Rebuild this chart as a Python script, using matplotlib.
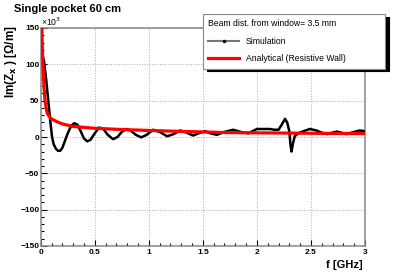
"""Transverse impedance of a single 60 cm pocket: simulation vs resistive wall."""

import matplotlib
import matplotlib.pyplot as plt
from matplotlib.lines import Line2D
from matplotlib.ticker import MultipleLocator

matplotlib.use("Agg")

plt.rcParams["font.family"] = ["Liberation Sans", "DejaVu Sans"]

# frequency [GHz] and Im(Z_x) [x10^3 Ohm/m]
sim_f = [0.015, 0.03, 0.05, 0.07, 0.09, 0.105, 0.12, 0.14, 0.16, 0.18, 0.20,
         0.22, 0.25, 0.28, 0.31, 0.34, 0.37, 0.40, 0.43, 0.46, 0.50, 0.54,
         0.58, 0.62, 0.67, 0.71, 0.75, 0.79, 0.83, 0.88, 0.93, 0.98, 1.04,
         1.10, 1.17, 1.23, 1.29, 1.35, 1.41, 1.46, 1.52, 1.57, 1.63, 1.70,
         1.78, 1.85, 1.92, 2.00, 2.06, 2.12, 2.16, 2.20, 2.23, 2.26, 2.28,
         2.30, 2.31, 2.32, 2.335, 2.35, 2.38, 2.43, 2.49, 2.55, 2.60, 2.65,
         2.70, 2.74, 2.78, 2.83, 2.90, 2.95, 3.00]
sim_z = [112, 105, 80, 50, 20, 0, -10, -16, -19, -19, -15,
         -7, 5, 15, 19, 17, 8, -2, -6, -4, 5, 13,
         11, 3, -3, 0, 7, 11, 9, 3, -0.5, 3, 10,
         7, 1, 4, 9, 6, 2, 5, 8, 5, 3, 7,
         10, 7, 5, 11, 11, 11, 10, 10, 17, 25, 20,
         8, -10, -20, -8, 1, 5, 8, 11, 9, 6, 4,
         6, 7.5, 6, 4, 7, 9, 8]

rw_f = [0.002, 0.01, 0.02, 0.03, 0.04, 0.05, 0.06, 0.08, 0.1, 0.15, 0.2,
        0.3, 0.5, 0.8, 1.0, 1.3, 1.75, 2.2, 2.6, 3.0]
rw_z = [400, 150, 100, 70, 50, 40, 33, 28, 25, 21, 18,
        14.5, 12, 10, 9, 7.7, 6, 5.5, 5, 4.7]

W, H = 407, 274
fig = plt.figure(figsize=(W / 100, H / 100), dpi=100)
ax = fig.add_axes([40.7 / W, 1 - 246 / H, (365 - 40.7) / W, (246 - 28) / H])

ax.plot(sim_f, sim_z, color="black", lw=1.8, zorder=3)
ana, = ax.plot(rw_f, rw_z, color="red", lw=2.3, zorder=4)

ax.set_xlim(0, 3)
ax.set_ylim(-150, 150)
ax.xaxis.set_major_locator(MultipleLocator(0.5))
ax.xaxis.set_minor_locator(MultipleLocator(0.1))
ax.yaxis.set_major_locator(MultipleLocator(50))
ax.yaxis.set_minor_locator(MultipleLocator(10))
ax.set_xticks([0, 0.5, 1, 1.5, 2, 2.5, 3], ["0", "0.5", "1", "1.5", "2", "2.5", "3"])
ax.tick_params(which="both", direction="in", color="black", width=0.8,
               labelsize=6, top=False, right=False)
ax.tick_params(which="major", length=4)
ax.tick_params(which="minor", length=2)
ax.tick_params(axis="x", pad=2)
ax.tick_params(axis="y", pad=1)
for lab in ax.get_xticklabels() + ax.get_yticklabels():
    lab.set_fontweight("bold")

ax.grid(True, which="major", color="#aaaaaa", ls=":", lw=0.7)
for sp in ax.spines.values():
    sp.set_color("#888888")
    sp.set_linewidth(1.1)

fig.text(14 / W, 1 - 9 / H, "Single pocket 60 cm", fontsize=8, fontweight="bold",
         ha="left", va="center")
fig.text(41 / W, 1 - 22 / H, "×10$^{3}$", fontsize=6.2, ha="left", va="center")
fig.text(11 / W, 1 - 25 / H, "Im(Z$_{\\mathbf{x}}$ ) [Ω/m]", fontsize=8.4,
         fontweight="bold", rotation=90, ha="center", va="top")
fig.text(363 / W, 1 - 265 / H, "f [GHz]", fontsize=8, fontweight="bold",
         ha="right", va="center")

sim_proxy = Line2D([], [], color="#777777", lw=1.5, marker="o", markersize=1.5,
                   markerfacecolor="black", markeredgecolor="black")
leg = ax.legend([sim_proxy, ana], ["Simulation", "Analytical (Resistive Wall)"],
                title="Beam dist. from window= 3.5 mm", alignment="left",
                loc="upper left", mode="expand",
                bbox_to_anchor=(203 / W, 1 - 70 / H, (385 - 203) / W, 56 / H),
                bbox_transform=fig.transFigure, borderaxespad=0,
                fontsize=6.2, title_fontsize=6.2, handlelength=3.6,
                handletextpad=0.8, borderpad=0.6, labelspacing=1.0,
                frameon=True, fancybox=False, edgecolor="#888888",
                framealpha=1,
                shadow={"ox": 3, "oy": -2, "facecolor": "black",
                        "edgecolor": "black", "alpha": 1})
leg.get_frame().set_linewidth(0.8)
leg.set_zorder(10)

fig.savefig("out.png", dpi=100)
